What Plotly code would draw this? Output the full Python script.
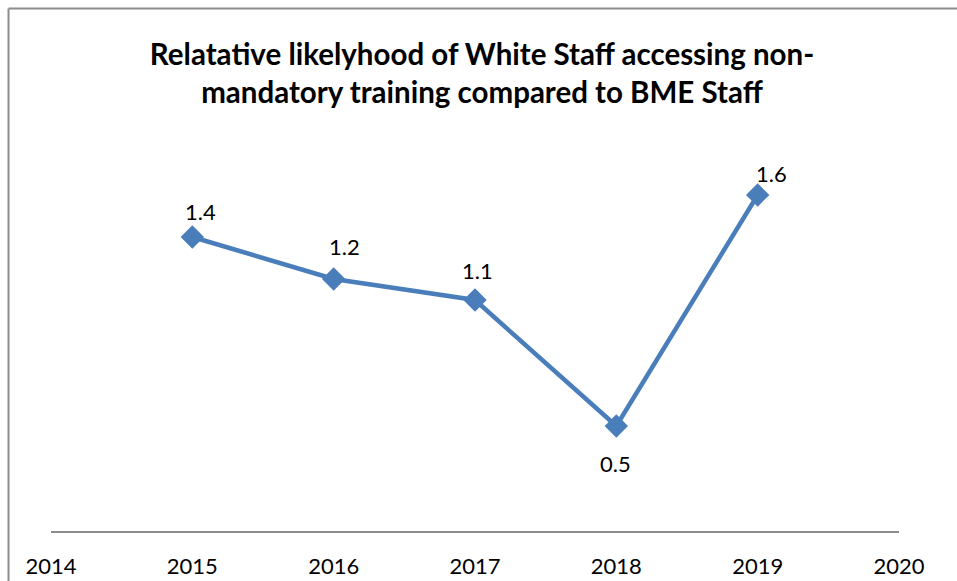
import plotly.graph_objects as go

# Relative likelihood of White staff accessing non-mandatory training vs BME staff
years = [2015, 2016, 2017, 2018, 2019]
ratio = [1.4, 1.2, 1.1, 0.5, 1.6]
tick_years = [2014, 2015, 2016, 2017, 2018, 2019, 2020]

W, H = 957, 581
L, R, T, B = 51, 58, 153, 50

# pixel offsets of each value label from its marker
label_dx = [8, 11, 2, -1, 14]
label_dy = [26, 33, 30, -37, 22]

FONT = "Lato, Liberation Sans, sans-serif"
BLUE = "#4A7EBB"

fig = go.Figure()
fig.add_trace(go.Scatter(
    x=years, y=ratio,
    mode="lines+markers",
    line=dict(color=BLUE, width=4.5),
    marker=dict(symbol="diamond", size=18, color=BLUE),
    cliponaxis=False,
    showlegend=False,
))

for x, v, dx, dy in zip(years, ratio, label_dx, label_dy):
    fig.add_annotation(
        x=x, y=v, text=f"{v:.1f}", showarrow=False,
        xshift=dx, yshift=dy, xanchor="center", yanchor="middle",
        font=dict(family=FONT, size=22, color="#000000"),
    )

pw = W - L - R
ph = H - T - B
# outer chart frame: left and top edges (the rest runs off the page)
x_left = (8.5 - L) / pw
y_top = (H - 8.5 - B) / ph
frame = dict(color="#8C8C8C", width=2)
fig.add_shape(type="line", xref="paper", yref="paper",
              x0=x_left, x1=x_left, y0=-B / ph - 0.1, y1=y_top, line=frame)
fig.add_shape(type="line", xref="paper", yref="paper",
              x0=x_left, x1=(W + 10 - L) / pw, y0=y_top, y1=y_top, line=frame)

fig.update_layout(
    width=W, height=H,
    margin=dict(l=L, r=R, t=T, b=B, pad=0, autoexpand=False),
    paper_bgcolor="white", plot_bgcolor="white",
    title=dict(
        text="<b>Relatative likelyhood of White Staff accessing non-<br>mandatory training compared to BME Staff</b>",
        x=(482 - L) / pw, xanchor="center", xref="paper",
        y=1 - 65 / H, yanchor="middle",
        font=dict(family=FONT, size=29.5, color="#000000"),
    ),
    xaxis=dict(
        range=[2014, 2020], tickvals=tick_years, ticktext=[str(t) for t in tick_years],
        showgrid=False, zeroline=False, showline=True, linecolor="#8C8C8C", linewidth=2,
        ticks="", ticklabelstandoff=15, automargin=False,
        tickfont=dict(family=FONT, size=22, color="#000000"),
    ),
    yaxis=dict(range=[0, 1.8], visible=False, showgrid=False, zeroline=False, automargin=False),
)

fig.write_html("out.html")
